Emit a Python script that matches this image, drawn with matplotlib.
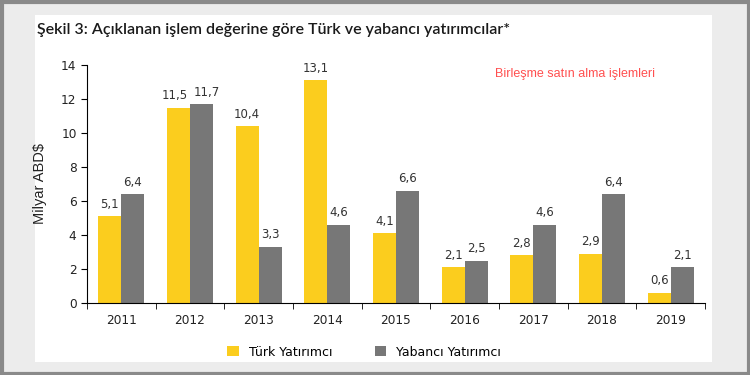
import matplotlib
matplotlib.use("Agg")
import matplotlib.pyplot as plt
from matplotlib.patches import Rectangle
import numpy as np

# veriler
years = ['2011', '2012', '2013', '2014', '2015', '2016', '2017', '2018', '2019']
turk = [5.1, 11.5, 10.4, 13.1, 4.1, 2.1, 2.8, 2.9, 0.6]
yabanci = [6.4, 11.7, 3.3, 4.6, 6.6, 2.5, 4.6, 6.4, 2.1]
turk_lbl = ['5,1', '11,5', '10,4', '13,1', '4,1', '2,1', '2,8', '2,9', '0,6']
yabanci_lbl = ['6,4', '11,7', '3,3', '4,6', '6,6', '2,5', '4,6', '6,4', '2,1']

SARI = '#FBCD1E'
GRI = '#777777'

fig = plt.figure(figsize=(7.5, 3.75), dpi=100)
fig.patch.set_facecolor('#ECECEC')

# dis cerceve ve beyaz panel
fig.patches.append(Rectangle((0.002, 0.004), 0.996, 0.992, transform=fig.transFigure,
                             fill=False, edgecolor='#8A8A8A', linewidth=3, zorder=-2))
fig.patches.append(Rectangle((35/750, 1-362/375), (712-35)/750, (362-15)/375,
                             transform=fig.transFigure, facecolor='white',
                             edgecolor='none', zorder=-2))

fig.text(37/750, 1-30/375, 'Şekil 3: Açıklanan işlem değerine göre Türk ve yabancı yatırımcılar*',
         fontsize=11.5, fontweight='semibold', color='#1a1a1a', va='center', ha='left',
         family='Lato')

ax = fig.add_axes([87/750, 1-303/375, (705-87)/750, (303-65)/375])
ax.set_zorder(2)
ax.set_facecolor('none')

x = np.arange(len(years))
w = 0.335
b1 = ax.bar(x - w/2, turk, w, color=SARI, label='Türk Yatırımcı')
b2 = ax.bar(x + w/2, yabanci, w, color=GRI, label='Yabancı Yatırımcı')

# 2012 etiketleri birbirine yakin, biraz ayir
for i, (xi, v, t) in enumerate(zip(x, turk, turk_lbl)):
    dx = -3 if i == 1 else 0
    ax.annotate(t, (xi - w/2, v), xytext=(dx, 4), textcoords='offset points',
                ha='center', va='bottom', fontsize=8.5, color='#333333')
for i, (xi, v, t) in enumerate(zip(x, yabanci, yabanci_lbl)):
    dx = 4 if i == 1 else 0
    ax.annotate(t, (xi + w/2, v), xytext=(dx, 4), textcoords='offset points',
                ha='center', va='bottom', fontsize=8.5, color='#333333')

ax.set_xlim(-0.5, len(years) - 0.5)
ax.set_ylim(0, 14)
ax.set_yticks(range(0, 15, 2))
ax.set_xticks(x)
ax.set_xticklabels(years)
ax.set_xticks(np.arange(-0.5, len(years)), minor=True)
ax.tick_params(axis='x', which='major', length=0, pad=8, labelsize=8.7, colors='#222222')
ax.tick_params(axis='x', which='minor', length=4, direction='out', color='black')
ax.tick_params(axis='y', length=4, labelsize=8.7, colors='#222222')
ax.tick_params(axis='y', color='black')

for s in ['top', 'right']:
    ax.spines[s].set_visible(False)
ax.spines['left'].set_color('black')
ax.spines['bottom'].set_color('black')

ax.set_ylabel('Milyar ABD$', fontsize=10.5, color='#222222', family='Liberation Sans', labelpad=10)

fig.text(575/750, 1-74/375, 'Birleşme satın alma işlemleri', color='#FF4F4F',
         fontsize=9, ha='center', va='center', family='Liberation Sans')

fig.legend(handles=[b1, b2], loc='center', bbox_to_anchor=(364/750, 1-352/375), ncol=2,
           frameon=False, fontsize=9, handlelength=0.9, handleheight=0.9,
           columnspacing=3.4, handletextpad=0.8)

fig.savefig('out.png', dpi=100, facecolor=fig.get_facecolor())
